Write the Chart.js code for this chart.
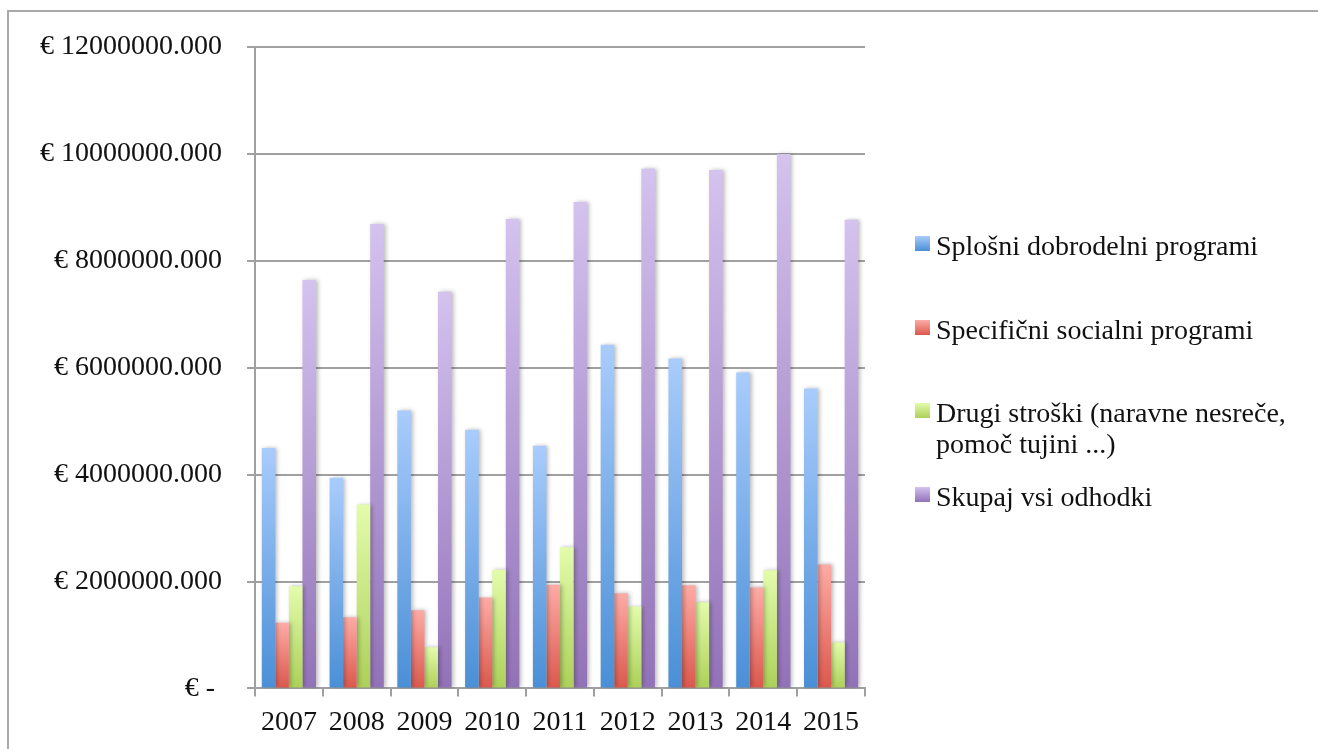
<!DOCTYPE html>
<html>
<head>
<meta charset="utf-8">
<script src="https://cdn.jsdelivr.net/npm/chart.js@4"></script>
<style>
  body { margin: 0; background: #fff; }
  #wrap { position: relative; width: 1318px; height: 749px; overflow: hidden; }
  #frame { position: absolute; left: 7px; top: 10px; width: 2000px; height: 2000px;
           border-left: 2px solid #a9a9a9; border-top: 2px solid #a9a9a9; }
  #c { position: absolute; left: 0; top: 0; }
  .item { position: absolute; left: 915px; font: 28px "Liberation Serif", serif; color: #111;
          line-height: 31px; }
  .item .box { position: absolute; left: 0; top: 6px; width: 15px; height: 15px; }
  .item .txt { margin-left: 21px; width: 365px; }
</style>
</head>
<body>
<div id="wrap">
  <div id="frame"></div>
  <canvas id="c" width="1318" height="749"></canvas>
  <div id="legend"></div>
</div>
<script>
const years = ['2007', '2008', '2009', '2010', '2011', '2012', '2013', '2014', '2015'];
const seriesNames = [
  'Splošni dobrodelni programi',
  'Specifični socialni programi',
  'Drugi stroški (naravne nesreče, pomoč tujini ...)',
  'Skupaj vsi odhodki'
];
const splosni = [4500000, 3940000, 5200000, 4840000, 4540000, 6430000, 6170000, 5910000, 5610000];
const specificni = [1230000, 1330000, 1460000, 1700000, 1940000, 1780000, 1930000, 1890000, 2320000];
const drugi = [1910000, 3440000, 770000, 2220000, 2640000, 1530000, 1610000, 2210000, 860000];
const skupaj = [7640000, 8690000, 7420000, 8780000, 9100000, 9720000, 9700000, 10000000, 8770000];
const yTickLabels = ['€ - ', '€ 2000000.000', '€ 4000000.000', '€ 6000000.000',
                     '€ 8000000.000', '€ 10000000.000', '€ 12000000.000'];

// top / bottom colour of each bar gradient
const shades = [
  ['#a9ccfc', '#4a8fd6'],
  ['#feaba6', '#da584d'],
  ['#e3fcab', '#acd059'],
  ['#d4c2ef', '#9272b7']
];

function barFill(top, bottom) {
  return (c) => {
    const chart = c.chart;
    if (!chart.chartArea || !c.parsed) return bottom;
    const y = chart.scales.y;
    const g = chart.ctx.createLinearGradient(0, y.getPixelForValue(c.parsed.y), 0, y.getPixelForValue(0));
    g.addColorStop(0, top);
    g.addColorStop(1, bottom);
    return g;
  };
}

const barShadow = {
  id: 'barShadow',
  beforeDatasetsDraw(chart) {
    const ctx = chart.ctx;
    ctx.save();
    ctx.shadowColor = 'rgba(0,0,0,0.28)';
    ctx.shadowBlur = 4;
    ctx.shadowOffsetX = 2;
    ctx.shadowOffsetY = 0;
  },
  afterDatasetsDraw(chart) {
    chart.ctx.restore();
  }
};

const allData = [splosni, specificni, drugi, skupaj];

new Chart(document.getElementById('c'), {
  type: 'bar',
  data: {
    labels: years,
    datasets: allData.map((d, i) => ({
      label: seriesNames[i],
      data: d,
      backgroundColor: barFill(shades[i][0], shades[i][1]),
      borderWidth: 0,
      categoryPercentage: 0.8,
      barPercentage: 1.0
    }))
  },
  options: {
    responsive: false,
    devicePixelRatio: 1,
    animation: false,
    layout: { padding: { left: 0, top: 47, right: 453, bottom: 1 } },
    plugins: {
      legend: { display: false },
      tooltip: { enabled: false }
    },
    scales: {
      x: {
        offset: true,
        grid: { drawOnChartArea: false, drawTicks: true, tickLength: 8, color: '#a0a0a0', lineWidth: 2 },
        border: { display: true, color: '#a0a0a0', width: 2 },
        ticks: { color: '#111', padding: 9, font: { family: 'Liberation Serif', size: 28 } }
      },
      y: {
        min: 0,
        max: 12000000,
        ticks: {
          stepSize: 2000000,
          color: '#111',
          padding: 25,
          font: { family: 'Liberation Serif', size: 28 },
          callback: (v, i) => yTickLabels[i]
        },
        grid: { color: '#a0a0a0', lineWidth: 2, tickLength: 8 },
        border: { display: true, color: '#a0a0a0', width: 2 },
        afterFit: (s) => { s.width = 255; }
      }
    }
  },
  plugins: [barShadow]
});

// legend on the right
const legend = document.getElementById('legend');
seriesNames.forEach((name, i) => {
  const item = document.createElement('div');
  item.className = 'item';
  item.style.top = (230 + i * 83.7) + 'px';
  const box = document.createElement('span');
  box.className = 'box';
  box.style.background = 'linear-gradient(' + shades[i][0] + ',' + shades[i][1] + ')';
  const txt = document.createElement('div');
  txt.className = 'txt';
  txt.textContent = name;
  item.appendChild(box);
  item.appendChild(txt);
  legend.appendChild(item);
});
</script>
</body>
</html>
